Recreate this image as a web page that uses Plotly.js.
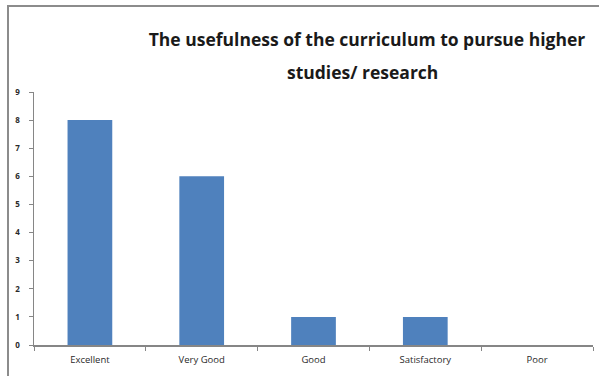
<!DOCTYPE html>
<html>
<head>
<meta charset="utf-8">
<script src="https://cdn.plot.ly/plotly-3.0.1.min.js"></script>
<style>html,body{margin:0;padding:0;background:#fff;}#chart{width:599px;height:376px;}</style>
</head>
<body>
<div id="chart"></div>
<script>
const categories = ["Excellent", "Very Good", "Good", "Satisfactory", "Poor"];
const counts = [8, 6, 1, 1, 0];
const yTicks = [0, 1, 2, 3, 4, 5, 6, 7, 8, 9];
const titleLine1 = "The usefulness of the curriculum to pursue higher";
const titleLine2 = "studies/ research";

const L = 34, R = 6, T = 92, B = 31, W = 599, H = 376;
const pw = W - L - R, ph = H - T - B;
const px = x => (x - L) / pw;
const py = y => (H - B - y) / ph;
const titleFont = {family: 'Open Sans, sans-serif', size: 17.5, color: '#1a1a1a', weight: 'bold'};

Plotly.newPlot('chart', [{
  type: 'bar',
  x: categories,
  y: counts,
  width: 0.4,
  marker: {color: '#4f81bd', line: {width: 0}},
  hoverinfo: 'none'
}], {
  width: W, height: H,
  margin: {l: L, r: R, t: T, b: B, pad: 0},
  paper_bgcolor: '#ffffff',
  plot_bgcolor: '#ffffff',
  showlegend: false,
  font: {family: 'Open Sans, sans-serif', color: '#333333'},
  title: {
    text: titleLine1,
    font: titleFont,
    x: px(367), xanchor: 'center', xref: 'paper',
    y: 1 - 40 / H, yanchor: 'middle'
  },
  annotations: [{
    text: titleLine2, font: titleFont, showarrow: false,
    xref: 'paper', yref: 'paper', x: px(362), y: py(72),
    xanchor: 'center', yanchor: 'middle'
  }],
  xaxis: {
    type: 'category',
    range: [-0.5, 4.5],
    showline: true, linecolor: '#868686', linewidth: 1.5,
    ticks: 'outside', tickson: 'boundaries', ticklen: 4, tickcolor: '#868686',
    ticklabelstandoff: 5,
    tickfont: {size: 9.5, color: '#2a2a2a', family: 'Open Sans, sans-serif'},
    showgrid: false, zeroline: false, fixedrange: true
  },
  yaxis: {
    range: [0, 9],
    tickvals: yTicks,
    showline: true, linecolor: '#868686', linewidth: 1.5,
    ticks: 'outside', ticklen: 4, tickcolor: '#868686',
    ticklabelstandoff: 7,
    tickfont: {size: 8, color: '#2a2a2a', family: 'Open Sans, sans-serif', weight: 'bold'},
    showgrid: false, zeroline: false, fixedrange: true
  },
  shapes: [{
    type: 'path', xref: 'paper', yref: 'paper',
    path: `M ${px(8)} ${py(376)} L ${px(8)} ${py(6)} L ${px(600)} ${py(6)}`,
    line: {color: '#8c8c8c', width: 2}
  }]
}, {displayModeBar: false, staticPlot: true});
</script>
</body>
</html>
